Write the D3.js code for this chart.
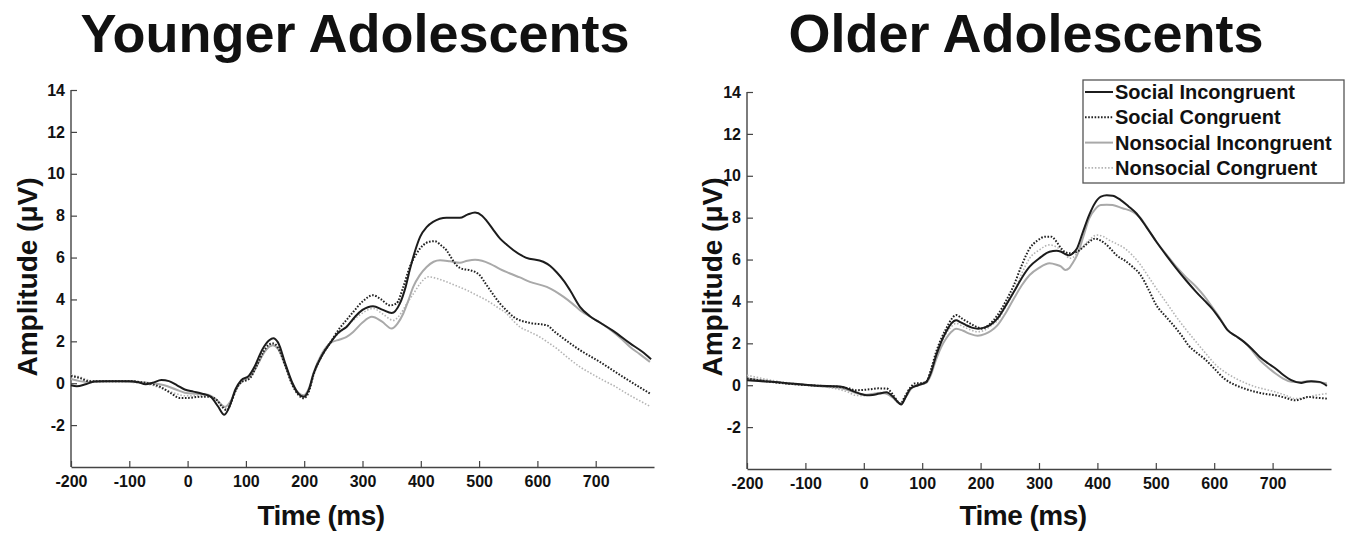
<!DOCTYPE html>
<html>
<head>
<meta charset="utf-8">
<script src="https://cdn.jsdelivr.net/npm/d3@7"></script>
<style>
  body { margin: 0; background: #fff; }
  svg text { font-family: "Liberation Sans", Arial, Helvetica, sans-serif; font-weight: bold; fill: #111; }
</style>
</head>
<body>
<svg id="chart" width="1360" height="535"></svg>
<script>
// tick labels
const xTicks = [-200, -100, 0, 100, 200, 300, 400, 500, 600, 700]
const yTicks = [-2, 0, 2, 4, 6, 8, 10, 12, 14]
const panelTitles = ['Younger Adolescents', 'Older Adolescents']
const seriesNames = ['Social Incongruent', 'Social Congruent', 'Nonsocial Incongruent', 'Nonsocial Congruent']

// younger adolescents, [time ms, amplitude uV]
const yngSocInc = [[-200,-0.1],[-190,-0.15],[-175,-0.05],[-160,0.08],[-140,0.1],[-120,0.1],[-100,0.1],[-85,0.05],[-72,-0.05],[-60,0.02],[-45,0.15],[-32,0.1],[-18,-0.1],[-5,-0.3],[10,-0.4],[25,-0.5],[40,-0.65],[52,-1.1],[63,-1.5],[72,-1.1],[82,-0.3],[92,0.15],[105,0.35],[115,0.8],[128,1.6],[140,2.05],[147,2.15],[155,1.95],[168,0.9],[180,0.0],[190,-0.5],[199,-0.65],[208,-0.3],[216,0.45],[230,1.3],[244,1.9],[258,2.4],[273,2.7],[288,3.2],[300,3.5],[318,3.68],[335,3.5],[350,3.35],[364,3.8],[374,4.6],[381,5.4],[390,6.3],[399,7.0],[410,7.45],[421,7.7],[444,7.9],[467,7.9],[480,8.05],[493,8.15],[505,8.0],[513,7.75],[525,7.3],[536,6.9],[548,6.6],[559,6.35],[580,6.0],[610,5.8],[622,5.6],[633,5.3],[645,4.9],[656,4.44],[673,3.65],[690,3.2],[707,2.9],[730,2.5],[759,1.9],[780,1.5],[795,1.15]]
const yngSocCon = [[-200,0.35],[-185,0.25],[-170,0.1],[-150,0.1],[-120,0.1],[-100,0.1],[-80,0.05],[-60,-0.05],[-45,-0.2],[-30,-0.45],[-13,-0.7],[0,-0.7],[21,-0.65],[38,-0.65],[50,-0.8],[60,-1.15],[67,-1.29],[75,-0.9],[83,-0.3],[90,0.0],[107,0.24],[118,0.8],[130,1.5],[140,1.85],[147,1.9],[155,1.7],[168,0.8],[180,-0.1],[190,-0.55],[199,-0.72],[208,-0.4],[216,0.4],[230,1.3],[244,1.9],[260,2.6],[272,3.0],[284,3.4],[300,3.9],[318,4.2],[332,4.0],[347,3.72],[358,3.8],[370,4.6],[381,5.55],[393,6.2],[404,6.59],[414,6.75],[424,6.78],[434,6.6],[444,6.35],[452,6.0],[461,5.64],[472,5.45],[484,5.4],[501,5.16],[510,4.8],[519,4.44],[536,3.8],[548,3.45],[559,3.17],[587,2.88],[616,2.77],[630,2.45],[645,2.13],[673,1.58],[707,1.02],[747,0.3],[770,-0.1],[793,-0.49]]
const yngNonInc = [[-200,0.2],[-185,0.1],[-170,0.05],[-150,0.1],[-120,0.1],[-100,0.1],[-80,0.05],[-60,0.0],[-40,-0.1],[-20,-0.3],[-5,-0.45],[15,-0.5],[35,-0.55],[50,-0.8],[64,-1.13],[75,-0.8],[85,-0.2],[95,0.15],[108,0.35],[120,0.9],[132,1.5],[146,1.81],[156,1.6],[168,0.8],[180,-0.05],[190,-0.45],[199,-0.57],[208,-0.25],[216,0.5],[230,1.4],[244,1.9],[261,2.09],[272,2.2],[284,2.45],[300,2.9],[316,3.17],[333,2.95],[350,2.61],[360,2.85],[370,3.33],[378,3.9],[387,4.6],[398,5.15],[410,5.55],[422,5.8],[433,5.87],[450,5.82],[467,5.75],[480,5.85],[493,5.9],[505,5.85],[519,5.7],[536,5.45],[553,5.24],[570,5.05],[587,4.84],[616,4.6],[630,4.4],[645,4.12],[660,3.8],[673,3.49],[696,3.09],[713,2.8],[730,2.45],[745,2.1],[759,1.73],[775,1.4],[793,1.02]]
const yngNonCon = [[-200,0.4],[-185,0.3],[-170,0.15],[-150,0.08],[-120,0.1],[-100,0.05],[-80,0.0],[-60,-0.1],[-40,-0.3],[-20,-0.5],[-5,-0.6],[15,-0.6],[35,-0.6],[50,-0.8],[64,-1.2],[75,-0.85],[85,-0.25],[95,0.1],[108,0.3],[120,0.85],[132,1.5],[146,1.8],[156,1.6],[168,0.8],[180,-0.1],[190,-0.5],[199,-0.65],[208,-0.3],[216,0.45],[230,1.35],[244,1.95],[260,2.4],[272,2.7],[284,3.0],[300,3.35],[318,3.57],[335,3.3],[353,3.0],[365,3.3],[376,3.8],[388,4.3],[399,4.76],[413,5.08],[428,5.0],[444,4.84],[461,4.65],[479,4.44],[496,4.2],[513,3.96],[530,3.65],[547,3.33],[558,3.0],[570,2.69],[587,2.45],[604,2.21],[618,1.95],[633,1.66],[653,1.2],[673,0.78],[693,0.45],[713,0.14],[733,-0.15],[753,-0.49],[773,-0.8],[793,-1.1]]

// older adolescents
const oldSocInc = [[-200,0.24],[-180,0.2],[-158,0.16],[-124,0.08],[-100,0.02],[-76,-0.03],[-50,-0.05],[-36,-0.08],[-25,-0.2],[-15,-0.32],[-5,-0.42],[5,-0.48],[15,-0.47],[26,-0.4],[39,-0.34],[50,-0.55],[60,-0.85],[64,-0.92],[72,-0.55],[80,-0.16],[93,0.0],[107,0.16],[115,0.6],[124,1.43],[133,2.1],[141,2.55],[150,2.95],[158,3.1],[166,3.0],[175,2.87],[185,2.75],[196,2.7],[206,2.75],[216,2.87],[229,3.19],[243,3.8],[257,4.46],[270,5.1],[284,5.66],[300,6.05],[318,6.37],[330,6.42],[338,6.37],[346,6.25],[352,6.2],[358,6.3],[365,6.53],[375,7.3],[386,8.13],[396,8.7],[406,9.0],[416,9.07],[426,9.05],[440,8.84],[453,8.55],[467,8.2],[484,7.55],[501,6.85],[518,6.2],[535,5.58],[552,5.0],[569,4.46],[583,4.05],[596,3.67],[610,3.15],[623,2.63],[637,2.35],[651,2.07],[665,1.72],[678,1.35],[692,1.05],[705,0.8],[718,0.5],[732,0.24],[749,0.11],[758,0.17],[766,0.19],[780,0.16],[793,-0.03]]
const oldSocCon = [[-200,0.32],[-170,0.2],[-140,0.1],[-110,0.03],[-75,-0.03],[-42,-0.08],[-25,-0.15],[-15,-0.24],[0,-0.22],[12,-0.19],[25,-0.15],[39,-0.16],[50,-0.45],[58,-0.78],[63,-0.88],[70,-0.55],[80,-0.1],[87,0.08],[97,0.1],[107,0.16],[115,0.75],[124,1.6],[133,2.25],[141,2.7],[150,3.15],[158,3.35],[170,3.15],[182,2.95],[192,2.8],[202,2.7],[215,2.9],[229,3.35],[243,4.0],[257,4.78],[270,5.7],[284,6.53],[297,6.9],[311,7.09],[321,7.09],[330,6.85],[338,6.53],[345,6.35],[352,6.3],[365,6.37],[376,6.6],[386,6.85],[396,7.0],[405,6.92],[413,6.77],[423,6.5],[433,6.2],[447,5.95],[460,5.66],[474,5.26],[487,4.6],[501,3.82],[518,3.25],[535,2.7],[546,2.3],[556,1.9],[570,1.55],[583,1.27],[600,0.8],[617,0.32],[637,0.0],[654,-0.18],[671,-0.32],[688,-0.42],[705,-0.48],[722,-0.6],[739,-0.72],[750,-0.65],[760,-0.56],[776,-0.6],[793,-0.64]]
const oldNonInc = [[-200,0.32],[-170,0.22],[-140,0.1],[-110,0.03],[-75,-0.05],[-42,-0.12],[-25,-0.25],[-10,-0.4],[5,-0.45],[20,-0.4],[35,-0.38],[50,-0.6],[63,-0.9],[72,-0.55],[82,-0.15],[93,0.0],[107,0.12],[115,0.5],[124,1.25],[133,1.85],[141,2.23],[150,2.55],[158,2.7],[170,2.6],[182,2.45],[195,2.36],[208,2.45],[218,2.6],[229,2.87],[243,3.45],[257,4.14],[270,4.75],[284,5.26],[300,5.6],[318,5.82],[330,5.75],[338,5.66],[345,5.5],[352,5.6],[358,5.85],[365,6.2],[376,7.1],[386,7.97],[396,8.4],[406,8.6],[416,8.62],[426,8.6],[443,8.45],[460,8.29],[467,8.15],[474,7.97],[488,7.4],[501,6.85],[518,6.25],[535,5.66],[552,5.15],[569,4.7],[583,4.25],[596,3.75],[610,3.2],[623,2.63],[637,2.35],[651,2.07],[665,1.65],[678,1.2],[692,0.85],[705,0.56],[718,0.32],[732,0.16],[746,0.15],[760,0.19],[776,0.15],[793,0.08]]
const oldNonCon = [[-200,0.48],[-170,0.3],[-140,0.15],[-110,0.06],[-75,-0.05],[-42,-0.2],[-25,-0.35],[-15,-0.48],[0,-0.5],[15,-0.42],[30,-0.35],[45,-0.45],[55,-0.75],[63,-0.88],[72,-0.55],[82,-0.12],[93,0.03],[107,0.12],[115,0.6],[124,1.45],[133,2.05],[141,2.47],[150,2.8],[158,2.95],[170,2.8],[182,2.65],[195,2.55],[208,2.65],[218,2.85],[229,3.1],[243,3.75],[257,4.46],[270,5.3],[284,6.06],[300,6.45],[318,6.7],[330,6.6],[338,6.45],[345,6.25],[352,6.06],[358,6.1],[365,6.3],[376,6.65],[386,6.93],[399,7.17],[410,7.1],[420,6.93],[433,6.75],[447,6.53],[460,6.2],[474,5.74],[487,5.2],[501,4.62],[518,3.95],[535,3.27],[552,2.65],[569,2.07],[586,1.5],[603,0.96],[620,0.6],[637,0.32],[654,0.1],[671,-0.08],[688,-0.2],[705,-0.32],[722,-0.48],[739,-0.64],[755,-0.6],[773,-0.48],[793,-0.4]]

// line styles per series (greys drawn under blacks)
const styles = [
  {color: '#1c1c1c', width: 2, dash: null},
  {color: '#222', width: 2, dash: '1.6,1.6'},
  {color: '#a9a9a9', width: 2, dash: null},
  {color: '#b3b3b3', width: 1.6, dash: '1.5,1.8'}
]

const panels = [
  {title: panelTitles[0], series: [yngSocInc, yngSocCon, yngNonInc, yngNonCon],
   x0: 71, x1: 654, yTop: 90, yBot: 467, titleX: 355, ylabX: 37, xlabX: 321},
  {title: panelTitles[1], series: [oldSocInc, oldSocCon, oldNonInc, oldNonCon],
   x0: 747, x1: 1331, yTop: 92, yBot: 469, titleX: 1026, ylabX: 722, xlabX: 1023, legend: true}
]

const svg = d3.select('#chart')
svg.append('rect').attr('width', 1360).attr('height', 535).attr('fill', '#fff')

panels.forEach(function(p) {
  const x = d3.scaleLinear().domain([-200, 800]).range([p.x0, p.x1])
  const y = d3.scaleLinear().domain([-4, 14]).range([p.yBot, p.yTop])
  const g = svg.append('g')

  g.append('text')
    .attr('x', p.titleX).attr('y', 52)
    .attr('text-anchor', 'middle')
    .style('font-size', '54px')
    .text(p.title)

  // axes, ticks pointing inward like matlab, plain hyphen for minus
  const xAxis = g.append('g')
    .attr('transform', 'translate(0,' + p.yBot + ')')
    .call(d3.axisBottom(x).tickValues(xTicks).tickFormat(d => String(d))
      .tickSizeInner(-6).tickSizeOuter(0).tickPadding(9))
  const yAxis = g.append('g')
    .attr('transform', 'translate(' + p.x0 + ',0)')
    .call(d3.axisLeft(y).tickValues(yTicks).tickFormat(d => String(d))
      .tickSizeInner(-6).tickSizeOuter(0).tickPadding(6))
  ;[xAxis, yAxis].forEach(function(a) {
    a.select('.domain').attr('stroke', '#444').attr('stroke-width', 1.4)
    a.selectAll('.tick line').attr('stroke', '#444').attr('stroke-width', 1.2)
    a.selectAll('.tick text')
      .style('font-family', '"Liberation Sans", Arial, sans-serif')
      .style('font-weight', 'bold')
      .style('font-size', '16px')
      .attr('fill', '#111')
  })
  // y axis line only spans the labelled range
  yAxis.select('.domain').attr('d', 'M0,' + p.yBot + 'V' + y(14))

  g.append('text')
    .attr('transform', 'translate(' + p.ylabX + ',277) rotate(-90)')
    .attr('text-anchor', 'middle')
    .style('font-size', '28px')
    .text('Amplitude (μV)')

  g.append('text')
    .attr('x', p.xlabX).attr('y', 525)
    .attr('text-anchor', 'middle')
    .style('font-size', '28px')
    .style('letter-spacing', '-0.5px')
    .text('Time (ms)')

  const line = d3.line()
    .x(d => x(d[0]))
    .y(d => y(d[1]))
    .curve(d3.curveMonotoneX)

  const order = [3, 2, 1, 0]
  order.forEach(function(i) {
    g.append('path')
      .datum(p.series[i])
      .attr('d', line)
      .attr('fill', 'none')
      .attr('stroke', styles[i].color)
      .attr('stroke-width', styles[i].width)
      .attr('stroke-dasharray', styles[i].dash)
      .attr('stroke-linejoin', 'round')
  })

  if (p.legend) {
    const lg = g.append('g')
    lg.append('rect')
      .attr('x', 1083).attr('y', 80).attr('width', 261).attr('height', 103)
      .attr('fill', '#fff').attr('stroke', '#555').attr('stroke-width', 1.3)
    const rows = lg.selectAll('g.row')
      .data(seriesNames)
      .enter().append('g')
      .attr('class', 'row')
      .attr('transform', (d, i) => 'translate(0,' + (92 + i * 25.3) + ')')
    rows.append('line')
      .attr('x1', 1085).attr('x2', 1113).attr('y1', 0).attr('y2', 0)
      .attr('stroke', (d, i) => styles[i].color)
      .attr('stroke-width', (d, i) => styles[i].width)
      .attr('stroke-dasharray', (d, i) => styles[i].dash)
    rows.append('text')
      .attr('x', 1115).attr('y', 7)
      .style('font-size', '20px')
      .text(d => d)
  }
})
</script>
</body>
</html>
